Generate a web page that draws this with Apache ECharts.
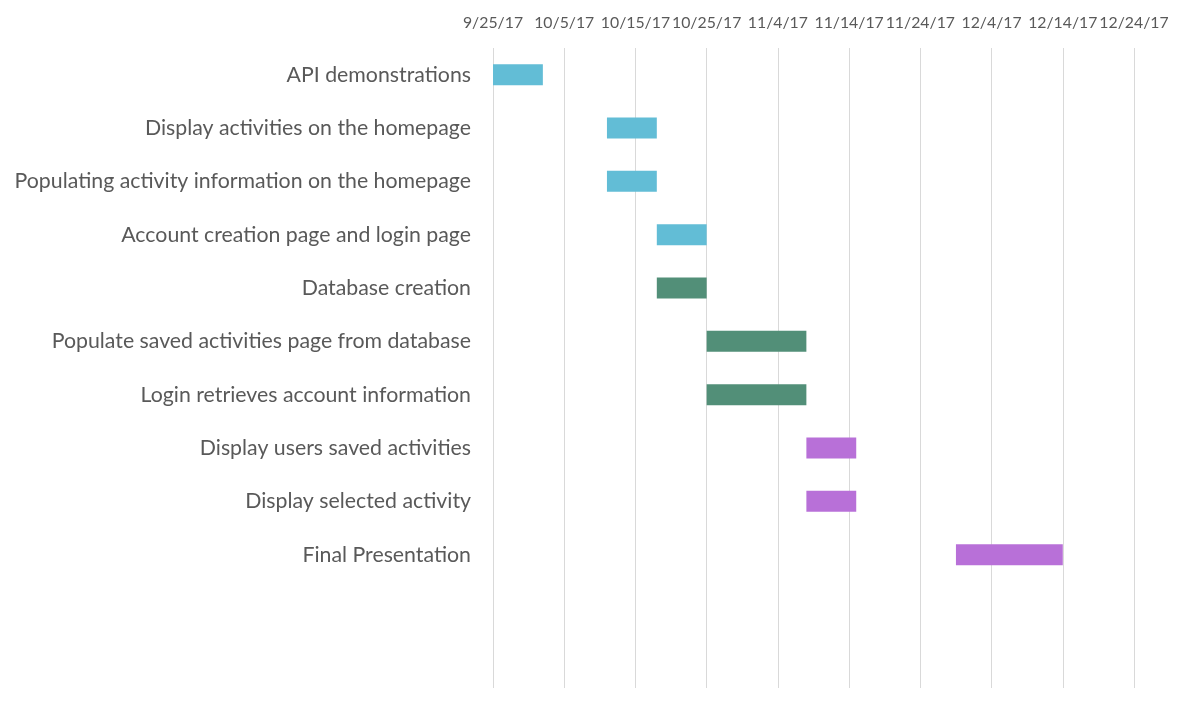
<!DOCTYPE html>
<html>
<head>
<meta charset="utf-8">
<script src="https://cdn.jsdelivr.net/npm/echarts@6/dist/echarts.min.js"></script>
<style>
html,body{margin:0;padding:0;background:#fff;}
#chart{width:1193px;height:711px;}
</style>
</head>
<body>
<div id="chart"></div>
<script>
// ---- data ----
const tasks = [
  'API demonstrations',
  'Display activities on the homepage',
  'Populating activity information on the homepage',
  'Account creation page and login page',
  'Database creation',
  'Populate saved activities page from database',
  'Login retrieves account information',
  'Display users saved activities',
  'Display selected activity',
  'Final Presentation'
];
const startDates = ['2017-09-25','2017-10-11','2017-10-11','2017-10-18','2017-10-18','2017-10-25','2017-10-25','2017-11-08','2017-11-08','2017-11-29'];
const endDates   = ['2017-10-02','2017-10-18','2017-10-18','2017-10-25','2017-10-25','2017-11-08','2017-11-08','2017-11-15','2017-11-15','2017-12-14'];
const phases     = [0,0,0,0,1,1,1,2,2,2];
const phaseColors = ['#62bdd6','#528f78','#b870d8'];
const axisStart = '2017-09-25';
const axisEnd = '2017-12-24';
const tickDays = 10;

// ---- build ----
const DAY = 86400000;
const t0 = Date.parse(axisStart + 'T00:00:00Z');
const toDay = s => Math.round((Date.parse(s + 'T00:00:00Z') - t0) / DAY);
const cats = tasks.concat(['', '']);
const baseVals = startDates.map(toDay);
const durVals = startDates.map((s, i) => ({
  value: toDay(endDates[i]) - toDay(s),
  itemStyle: { color: phaseColors[phases[i]] }
}));
const fmt = v => {
  const d = new Date(t0 + v * DAY);
  return (d.getUTCMonth() + 1) + '/' + d.getUTCDate() + '/' + String(d.getUTCFullYear()).slice(2);
};

const chart = echarts.init(document.getElementById('chart'));
chart.setOption({
  animation: false,
  backgroundColor: '#fff',
  grid: { left: 493, right: 59, top: 48, bottom: 23, containLabel: false },
  xAxis: {
    type: 'value',
    position: 'top',
    min: 0,
    max: toDay(axisEnd),
    interval: tickDays,
    axisLine: { show: false },
    axisTick: { show: false },
    splitLine: { show: true, lineStyle: { color: '#d9d9d9', width: 1 } },
    axisLabel: { formatter: fmt, color: '#595959', fontFamily: 'Lato', fontSize: 15.8, margin: 17,
                 showMinLabel: true, showMaxLabel: true, hideOverlap: false }
  },
  yAxis: {
    type: 'category',
    inverse: true,
    data: cats,
    axisLine: { show: false },
    axisTick: { show: false },
    splitLine: { show: false },
    axisLabel: { color: '#595959', fontFamily: 'Lato', fontSize: 21.3, margin: 22 }
  },
  series: [
    { type: 'bar', stack: 'g', data: baseVals, itemStyle: { color: 'transparent' }, barWidth: 21, silent: true },
    { type: 'bar', stack: 'g', data: durVals, barWidth: 21 }
  ]
});
</script>
</body>
</html>
